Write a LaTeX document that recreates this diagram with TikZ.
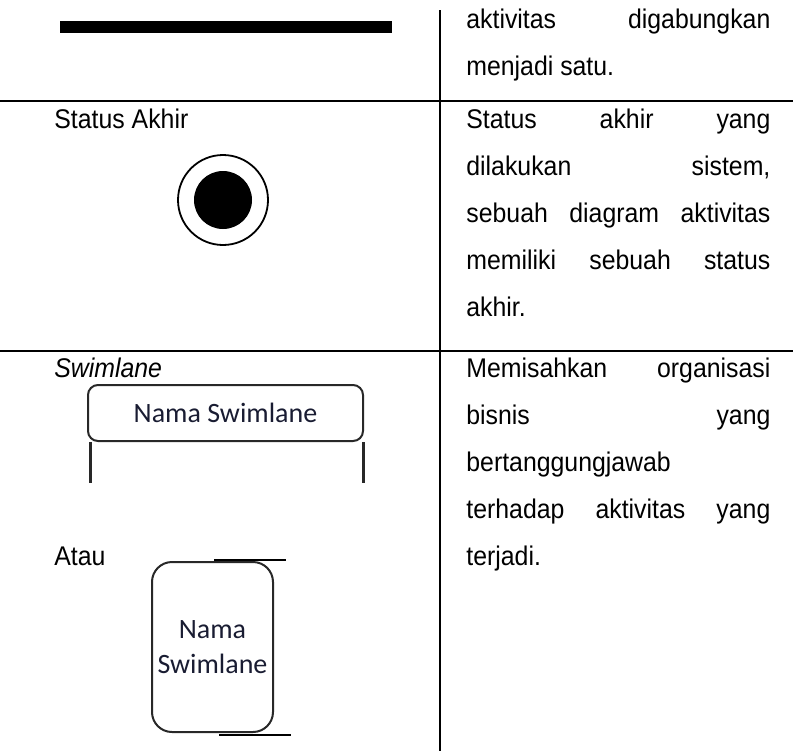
\documentclass[tikz,border=0pt]{standalone}
\usepackage{fontspec}
\setmainfont{Liberation Sans}[FakeStretch=0.92]
\newfontfamily\swimfont{Carlito}
\usetikzlibrary{positioning}
\definecolor{swimtext}{RGB}{25,28,50}
\definecolor{laneline}{RGB}{40,40,40}
\tolerance=10000
\hbadness=10000

\begin{document}
\begin{tikzpicture}[
    x=0.5pt, y=-0.5pt,
    cell/.style={anchor=base west, inner sep=0pt, font=\fontsize{13.5}{23.5}\selectfont},
    desc/.style={cell, text width=152pt, align=justify},
    rule/.style={line width=1pt},
    lane/.style={draw=laneline, line width=1pt, inner sep=0pt},
    lanetext/.style={font=\swimfont\fontsize{14}{17.5}\selectfont, text=swimtext, align=center},
    laneedge/.style={draw=laneline, line width=1.5pt}
]
\useasboundingbox (0,0) rectangle (793,751);

% Table rules
\draw[rule] (0,101) -- (793,101);
\draw[rule] (0,351) -- (793,351);
\draw[rule] (440,10) -- (440,751);

% Join bar
\node[fill=black, inner sep=0pt, minimum width=166pt, minimum height=6pt] (joinbar) at (226,27) {};
\node[desc] (joindesc) at (466,28) {aktivitas digabungkan\linebreak menjadi satu.};

% Final state
\node[cell] (finallabel) at (54,128) {Status Akhir};
\node[circle, draw, line width=0.9pt, minimum size=45pt, inner sep=0pt] (finalring) at (223,200) {};
\node[circle, fill=black, minimum size=29pt, inner sep=0pt] (finaldot) at (finalring.center) {};
\node[desc] (finaldesc) at (466,128) {Status akhir yang\linebreak dilakukan sistem,\linebreak sebuah diagram aktivitas\linebreak memiliki sebuah status\linebreak akhir.};

% Swimlane, horizontal
\node[cell] (lanelabel) at (54,377) {\itshape Swimlane};
\node[lane, lanetext, rounded corners=5pt, minimum width=137.5pt, minimum height=28pt] (lanehead) at (225.5,413) {Nama Swimlane};
\draw[laneedge] ([xshift=1.5pt]lanehead.south west) -- ++(0,41);
\draw[laneedge] ([xshift=-0.5pt]lanehead.south east) -- ++(0,41);

% Swimlane, vertical
\node[cell] (atau) at (54,565) {Atau};
\node[lane, lanetext, rounded corners=10pt, minimum width=60.5pt, minimum height=85pt] (vlane) at (212.5,647) {Nama\\Swimlane};
\draw[rule] ([xshift=31.5pt, yshift=0.5pt]vlane.north west) -- ++(72,0);
\draw[rule] ([xshift=34pt, yshift=-1pt]vlane.south west) -- ++(72,0);

\node[desc] (lanedesc) at (466,377) {Memisahkan organisasi\linebreak bisnis yang\linebreak bertanggungjawab\linebreak terhadap aktivitas yang\linebreak terjadi.};
\end{tikzpicture}
\end{document}
